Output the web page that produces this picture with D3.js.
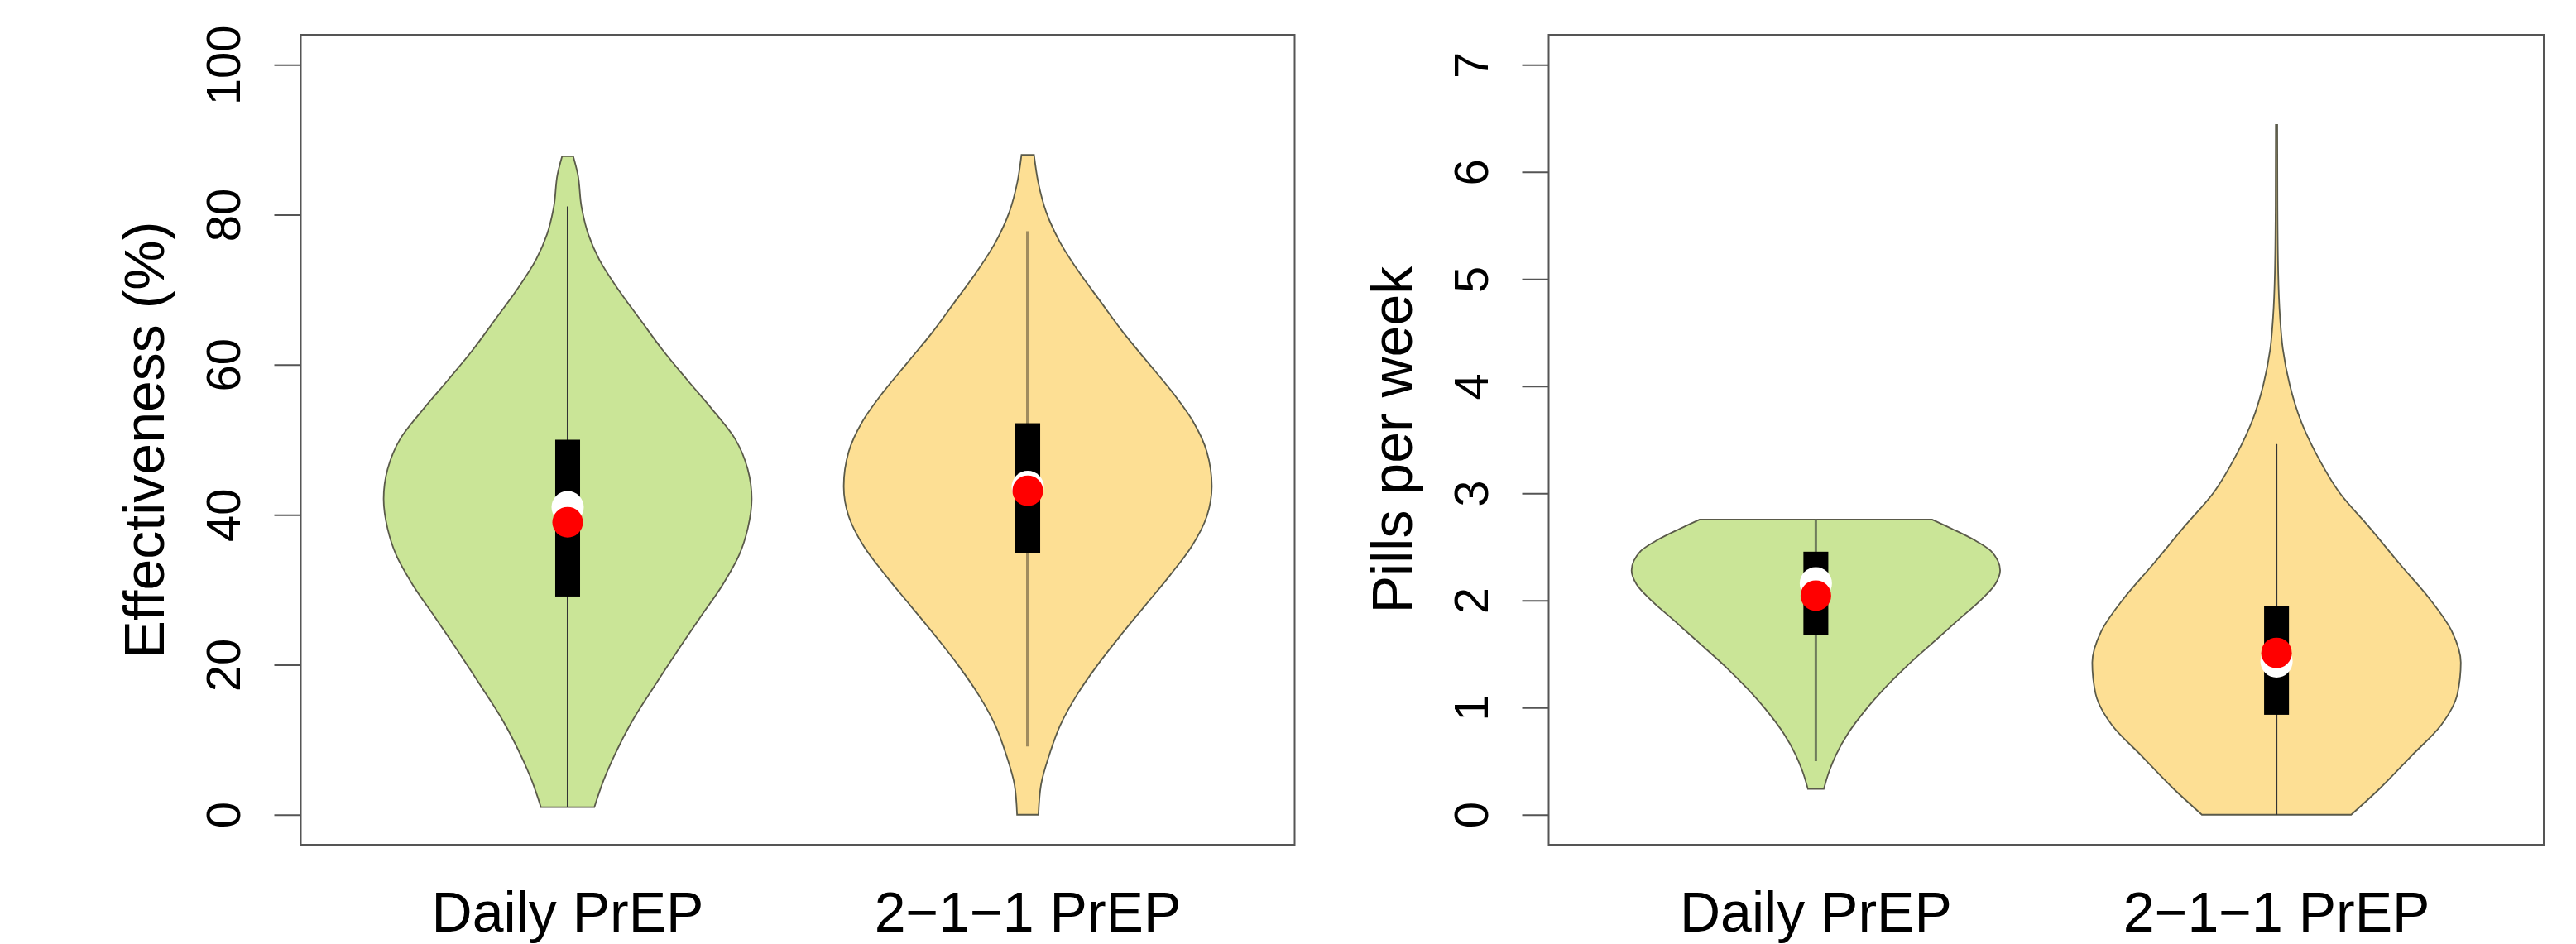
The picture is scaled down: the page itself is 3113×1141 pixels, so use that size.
<!DOCTYPE html>
<html>
<head>
<meta charset="utf-8">
<script src="https://cdn.jsdelivr.net/npm/d3@7"></script>
<style>
  html, body { margin: 0; padding: 0; background: #fff; }
  text { font-family: "Liberation Sans", Arial, Helvetica, sans-serif; fill: #000; }
</style>
</head>
<body>
<div id="chart"></div>
<script>
// categories and tick labels
const categories = ["Daily PrEP", "2\u22121\u22121 PrEP"];
const effTicks = [0, 20, 40, 60, 80, 100];
const pillTicks = [0, 1, 2, 3, 4, 5, 6, 7];

// violin outlines: [value, relative half-width]
const effDensityDaily = [
  [87.8, 0.03], [85.4, 0.055], [81.1, 0.075], [77.4, 0.112], [74.0, 0.172],
  [70.0, 0.276], [66.0, 0.395], [62.0, 0.515], [58.0, 0.649], [54.1, 0.784],
  [50.1, 0.910], [46.1, 0.978], [42.1, 1.0], [38.1, 0.978], [34.7, 0.933],
  [30.7, 0.843], [26.2, 0.717], [21.6, 0.590], [17.1, 0.470], [12.5, 0.351],
  [7.9, 0.254], [4.5, 0.194], [1.0, 0.145]
];
const effDensity211 = [
  [88.0, 0.034], [84.3, 0.057], [80.3, 0.101], [76.3, 0.176], [72.3, 0.280],
  [68.3, 0.399], [64.3, 0.519], [60.3, 0.653], [56.3, 0.787], [52.4, 0.899],
  [48.4, 0.973], [43.8, 1.0], [39.8, 0.973], [35.8, 0.891], [31.9, 0.772],
  [27.9, 0.638], [23.9, 0.504], [19.9, 0.377], [15.9, 0.265], [11.9, 0.176],
  [7.9, 0.116], [4.0, 0.072], [0.0, 0.058]
];
const pillDensityDaily = [
  [2.756, 0.630], [2.666, 0.742], [2.563, 0.861], [2.46, 0.951], [2.28, 1.0],
  [2.151, 0.973], [1.997, 0.891], [1.817, 0.772], [1.611, 0.638], [1.380, 0.489],
  [1.174, 0.370], [0.968, 0.265], [0.762, 0.176], [0.557, 0.109], [0.403, 0.072],
  [0.24, 0.043]
];
const pillDensity211 = [
  [6.44, 0.004], [5.69, 0.005], [5.06, 0.009], [4.64, 0.019], [4.35, 0.034],
  [4.01, 0.072], [3.68, 0.131], [3.35, 0.221], [3.01, 0.340], [2.68, 0.505],
  [2.34, 0.669], [2.01, 0.833], [1.71, 0.952], [1.42, 1.0], [1.13, 0.982],
  [0.836, 0.893], [0.544, 0.729], [0.251, 0.564], [0.0, 0.405]
];

// box statistics per category
const effWhiskerLow = [1.0, 9.1];
const effWhiskerHigh = [81.1, 77.8];
const effQ1 = [29.1, 34.9];
const effQ3 = [50.0, 52.2];
const effMedian = [41.0, 43.7];
const effMean = [39.0, 43.2];

const pillWhiskerLow = [0.5, 0.0];
const pillWhiskerHigh = [2.756, 3.46];
const pillQ1 = [1.68, 0.933];
const pillQ3 = [2.455, 1.944];
const pillMedian = [2.16, 1.43];
const pillMean = [2.045, 1.51];

const fillColors = ["#cae597", "#fddf94"];

const width = 3113, height = 1141;
const plotTop = 42, plotBottom = 1021;
const panels = [
  {
    left: 363.5, right: 1564.5, title: "Effectiveness (%)", ticks: effTicks, ylim: [0, 100],
    density: [effDensityDaily, effDensity211],
    lo: effWhiskerLow, hi: effWhiskerHigh, q1: effQ1, q3: effQ3, med: effMedian, mean: effMean,
    whisker: [{c: "#333", w: 2}, {c: "#a08c5e", w: 4}]
  },
  {
    left: 1871.5, right: 3074, title: "Pills per week", ticks: pillTicks, ylim: [0, 7],
    density: [pillDensityDaily, pillDensity211],
    lo: pillWhiskerLow, hi: pillWhiskerHigh, q1: pillQ1, q3: pillQ3, med: pillMedian, mean: pillMean,
    whisker: [{c: "#6f7c5c", w: 3}, {c: "#333", w: 2}]
  }
];

const svg = d3.select("#chart").append("svg")
  .attr("width", width)
  .attr("height", height);

svg.append("rect").attr("width", width).attr("height", height).attr("fill", "#fff");

panels.forEach(p => {
  const g = svg.append("g");

  // R-style 4% axis extension
  const span = p.ylim[1] - p.ylim[0];
  const y = d3.scaleLinear()
    .domain([p.ylim[0] - 0.04 * span, p.ylim[1] + 0.04 * span])
    .range([plotBottom, plotTop]);
  const x = d3.scaleLinear().domain([0.42, 2.58]).range([p.left, p.right]);
  const halfWidth = d3.scaleLinear().domain([0, 1]).range([0, 0.4]);

  // violins
  p.density.forEach((dens, i) => {
    const c = i + 1;
    const area = d3.area()
      .y(d => y(d[0]))
      .x0(d => x(c - halfWidth(d[1])))
      .x1(d => x(c + halfWidth(d[1])))
      .curve(d3.curveMonotoneY);
    g.append("path")
      .attr("d", area(dens))
      .attr("fill", fillColors[i])
      .attr("stroke", "#5a5a4a")
      .attr("stroke-width", 1.8);

    // whisker
    g.append("line")
      .attr("x1", x(c)).attr("x2", x(c))
      .attr("y1", y(p.lo[i])).attr("y2", y(p.hi[i]))
      .attr("stroke", p.whisker[i].c)
      .attr("stroke-width", p.whisker[i].w);

    // IQR box
    const bw = x(c + 0.027) - x(c);
    g.append("rect")
      .attr("x", x(c) - bw)
      .attr("width", bw * 2)
      .attr("y", y(p.q3[i]))
      .attr("height", y(p.q1[i]) - y(p.q3[i]))
      .attr("fill", "#000");

    g.append("circle")
      .attr("cx", x(c)).attr("cy", y(p.med[i]))
      .attr("r", 19.5).attr("fill", "#fff");
    g.append("circle")
      .attr("cx", x(c)).attr("cy", y(p.mean[i]))
      .attr("r", 18.5).attr("fill", "#ff0000");
  });

  // frame
  g.append("rect")
    .attr("x", p.left).attr("y", plotTop)
    .attr("width", p.right - p.left).attr("height", plotBottom - plotTop)
    .attr("fill", "none")
    .attr("stroke", "#555")
    .attr("stroke-width", 2);

  // y axis
  const axis = g.append("g")
    .attr("transform", `translate(${p.left},0)`)
    .call(d3.axisLeft(y).tickValues(p.ticks).tickSize(32).tickFormat(d3.format("d")));
  axis.select(".domain").remove();
  axis.selectAll(".tick line").attr("stroke", "#555").attr("stroke-width", 2);
  axis.selectAll(".tick text")
    .attr("x", null).attr("dy", null)
    .attr("text-anchor", "middle")
    .attr("transform", "translate(-74,0) rotate(-90)")
    .style("font-size", "58px")
    .style("font-family", "'Liberation Sans', Arial, sans-serif")
    .attr("fill", "#000");

  // y title
  g.append("text")
    .attr("text-anchor", "middle")
    .attr("transform", `translate(${p.left - 166},${(plotTop + plotBottom) / 2}) rotate(-90)`)
    .style("font-size", "68px")
    .text(p.title);

  // category labels
  g.selectAll(".cat")
    .data(categories)
    .join("text")
    .attr("class", "cat")
    .attr("x", (d, i) => x(i + 1))
    .attr("y", 1126)
    .attr("text-anchor", "middle")
    .style("font-size", "68px")
    .text(d => d);
});
</script>
</body>
</html>
